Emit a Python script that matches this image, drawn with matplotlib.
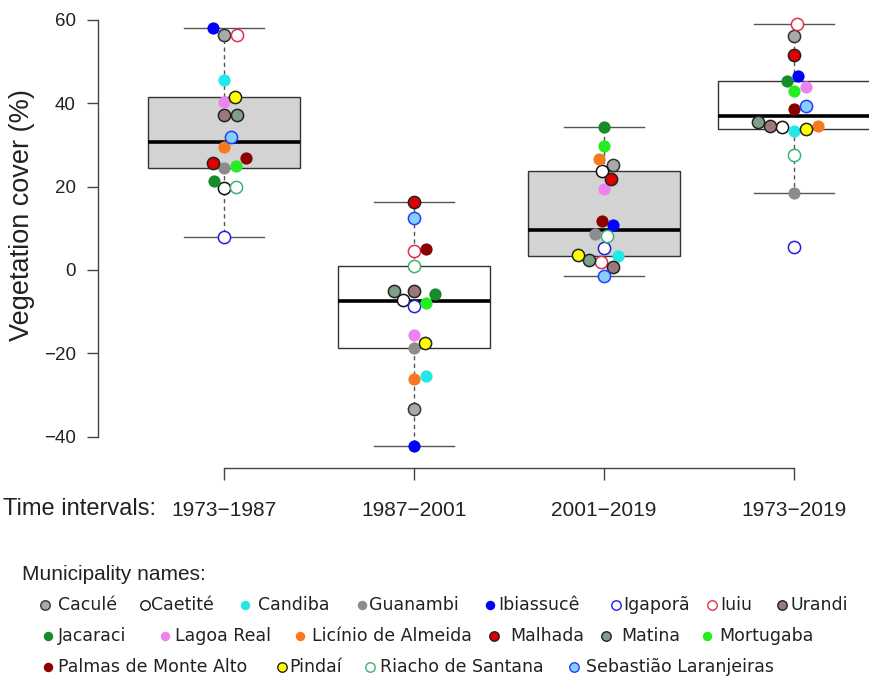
"""Vegetation cover change per time interval: boxplots with a beeswarm of the
18 municipalities (R base-graphics look)."""

import matplotlib
matplotlib.use("Agg")
import matplotlib.pyplot as plt
import numpy as np

plt.rcParams["font.family"] = ["Liberation Sans", "DejaVu Sans"]

# ---------------------------------------------------------------- data
intervals = ["1973\u22121987", "1987\u22122001", "2001\u22122019", "1973\u22122019"]

municipalities = [
    "Caculé", "Caetité", "Candiba", "Guanambi", "Ibiassucê", "Igaporã",
    "Iuiu", "Urandi", "Jacaraci", "Lagoa Real", "Licínio de Almeida",
    "Malhada", "Matina", "Mortugaba", "Palmas de Monte Alto", "Pindaí",
    "Riacho de Santana", "Sebastião Laranjeiras",
]

# vegetation cover change (%), same order as `municipalities`
cover_1973_1987 = [56.4, 19.7, 45.6, 24.5, 58.0, 8.0, 56.4, 37.2, 21.4,
                   40.3, 29.5, 25.7, 37.2, 25.0, 26.8, 41.5, 19.9, 31.9]
cover_1987_2001 = [-33.3, -7.2, -25.4, -18.7, -42.2, -8.6, 4.6, -5.0, -5.8,
                   -15.6, -26.1, 16.3, -5.0, -7.9, 5.0, -17.5, 1.0, 12.5]
cover_2001_2019 = [25.2, 23.7, 3.4, 8.6, 10.8, 5.3, 1.9, 0.7, 34.3,
                   19.4, 26.6, 21.8, 2.4, 29.7, 11.8, 3.6, 8.2, -1.4]
cover_1973_2019 = [56.1, 34.3, 33.3, 18.5, 46.5, 5.5, 59.0, 34.5, 45.3,
                   43.9, 34.5, 51.6, 35.5, 42.9, 38.6, 33.8, 27.6, 39.3]

series = [cover_1973_1987, cover_1987_2001, cover_2001_2019, cover_1973_2019]

# ---------------------------------------------------------------- styles
# (face, edge) per municipality
_STYLE = [
    ("#a9a9a9", "#333333"),  # Caculé
    ("white",   "#111111"),  # Caetité
    ("#22e8e8", None),       # Candiba
    ("#8c8c8c", None),       # Guanambi
    ("#0000ff", None),       # Ibiassucê
    ("white",   "#2020e0"),  # Igaporã
    ("white",   "#e03050"),  # Iuiu
    ("#9c7878", "#222222"),  # Urandi
    ("#178a2a", None),       # Jacaraci
    ("#ee82ee", None),       # Lagoa Real
    ("#f57a1f", None),       # Licínio de Almeida
    ("#e00000", "#222222"),  # Malhada
    ("#7f9f8a", "#222222"),  # Matina
    ("#22ee22", None),       # Mortugaba
    ("#8b0000", None),       # Palmas de Monte Alto
    ("#ffff00", "#222222"),  # Pindaí
    ("white",   "#3cb371"),  # Riacho de Santana
    ("#87cefa", "#1f3fff"),  # Sebastião Laranjeiras
]
_BOX_FILL = ["#d3d3d3", "white", "#d3d3d3", "white"]

# legend layout (pixel columns of marker and text, per row)
_LEG_ROWS = [
    (list(range(0, 8)),   [45, 145, 245, 362, 490, 616, 712, 782],
                          [58, 151, 258, 369, 498, 623, 720, 790]),
    (list(range(8, 14)),  [48, 165, 300, 494, 606, 707],
                          [58, 175, 312, 510, 621, 719]),
    (list(range(14, 18)), [48, 282, 370, 574],
                          [58, 289, 380, 586]),
]
_LEG_Y = [605, 636, 667]

W, H = 869, 679
MARK_PX = 12.5  # point diameter used for the swarm


def fivenum(v):
    x = np.sort(np.asarray(v, dtype=float))
    n = len(x)
    n4 = np.floor((n + 3) / 2) / 2
    d = np.array([1, n4, (n + 1) / 2, n + 1 - n4, n]) - 1
    return 0.5 * (x[np.floor(d).astype(int)] + x[np.ceil(d).astype(int)])


def box_stats(v):
    lo, q1, med, q3, hi = fivenum(v)
    iqr = q3 - q1
    arr = np.asarray(v, dtype=float)
    inside = arr[(arr >= q1 - 1.5 * iqr) & (arr <= q3 + 1.5 * iqr)]
    return dict(med=med, q1=q1, q3=q3, whislo=inside.min(),
                whishi=inside.max(), fliers=[])


def swarm(values_px, size):
    """R beeswarm 'swarm' placement; returns horizontal offsets (px)."""
    v = np.asarray(values_px) / size
    out = np.zeros(len(v))
    pv, px = [], []
    for i in np.argsort(v, kind="stable"):
        vi = v[i]
        a, b = np.array(pv), np.array(px)
        near = (vi - a) < 1 if len(a) else np.zeros(0, bool)
        xi = 0.0
        if near.any():
            a, b = a[near], b[near]
            o = np.argsort(np.abs(b), kind="stable")
            a, b = a[o], b[o]
            off = np.sqrt(1 - (vi - a) ** 2)
            cand = np.concatenate([[0.0], b + off, b - off])
            bad = np.array([np.any((vi - a) ** 2 + (c - b) ** 2 < 0.999) for c in cand])
            cand[bad] = np.inf
            xi = cand[np.argmin(np.abs(cand))]
        out[i] = xi
        pv.append(vi)
        px.append(xi)
    return out * size


fig = plt.figure(figsize=(W / 100, H / 100), dpi=100)
ax = fig.add_axes([98 / W, (H - 468) / H, (W - 98) / W, 468 / H])
ax.set_xlim(1 - 126 / 190, 4 + 75 / 190)
ax.set_ylim((270 - 468) / 4.17, 270 / 4.17)

pos = np.arange(1, len(intervals) + 1)
bp = ax.bxp([box_stats(s) for s in series], positions=pos, widths=0.8,
            capwidths=0.42, patch_artist=True, showfliers=False,
            boxprops=dict(edgecolor="#333333", linewidth=1.0),
            medianprops=dict(color="black", linewidth=2.6),
            whiskerprops=dict(color="#555555", linewidth=1.0, linestyle=(0, (3, 2.5))),
            capprops=dict(color="#555555", linewidth=1.0))
for patch, fc in zip(bp["boxes"], _BOX_FILL):
    patch.set_facecolor(fc)

# swarm offsets in pixels -> data units
px_per_x = ax.transData.transform((2, 0))[0] - ax.transData.transform((1, 0))[0]
for k, vals in enumerate(series):
    ypx = ax.transData.transform(np.column_stack([np.ones(len(vals)), vals]))[:, 1]
    xoff = swarm(ypx, MARK_PX) / px_per_x
    for j, v in enumerate(vals):
        fc, ec = _STYLE[j]
        ax.plot(pos[k] + xoff[j], v, "o", ms=8.8, mfc=fc,
                mec=ec if ec else fc, mew=1.1 if ec else 0.0, zorder=5,
                clip_on=False)

for side in ("top", "right"):
    ax.spines[side].set_visible(False)
ax.spines["left"].set_bounds(-40, 60)
ax.spines["bottom"].set_bounds(1, 4)
for side in ("left", "bottom"):
    ax.spines[side].set_color("#444444")
    ax.spines[side].set_linewidth(1.0)
ax.set_yticks([-40, -20, 0, 20, 40, 60])
ax.set_xticks(pos)
ax.set_xticklabels(intervals)
ax.tick_params(axis="y", length=8, width=1.0, color="#444444",
               labelsize=13.5, pad=8, labelcolor="#222222")
ax.tick_params(axis="x", length=8.5, width=1.0, color="#444444",
               labelsize=15, pad=15, labelcolor="#222222")
ax.patch.set_alpha(0)

# overlay in pixel coordinates for labels and the legend
ov = fig.add_axes([0, 0, 1, 1], zorder=-1)
ov.set_xlim(0, W)
ov.set_ylim(H, 0)
ov.axis("off")
ov.text(22, 215, "Vegetation cover (%)", rotation=90, ha="center",
        va="center", fontsize=19.5, color="#222222")
ov.text(3, 509, "Time intervals:", ha="left", va="center", fontsize=17,
        color="#222222")
ov.text(22, 575, "Municipality names:", ha="left", va="center", fontsize=15,
        color="#222222")

for (idx, mx, tx), y in zip(_LEG_ROWS, _LEG_Y):
    for j, xm, xt in zip(idx, mx, tx):
        fc, ec = _STYLE[j]
        ov.plot(xm, y, "o", ms=6.8, mfc=fc, mec=ec if ec else fc,
                mew=1.0 if ec else 0.0)
        ov.text(xt, y, municipalities[j], ha="left", va="center",
                fontsize=12.5, family="DejaVu Sans", color="#222222")

fig.savefig("out.png", dpi=100)
